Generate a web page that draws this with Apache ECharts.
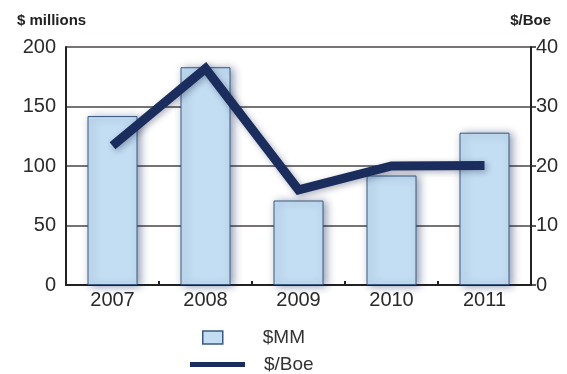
<!DOCTYPE html>
<html>
<head>
<meta charset="utf-8">
<script src="https://cdn.jsdelivr.net/npm/echarts@6/dist/echarts.min.js"></script>
<style>
html,body{margin:0;padding:0;background:#fff;}
#c{width:567px;height:374px;}
</style>
</head>
<body>
<div id="c"></div>
<script>
const categories = ['2007', '2008', '2009', '2010', '2011'];
const mmValues = [142, 183, 71, 92, 128];
const boeValues = [23.4, 36.4, 16, 20, 20.1];
const leftTicks = [0, 50, 100, 150, 200];
const rightTicks = [0, 10, 20, 30, 40];

const chart = echarts.init(document.getElementById('c'));
const font = 'Liberation Sans, Arial, sans-serif';
chart.setOption({
  animation: false,
  backgroundColor: '#fff',
  title: [
    {text: '$ millions', left: 12, top: 8, textStyle: {fontFamily: font, fontSize: 15, fontWeight: 'bold', color: '#222'}},
    {text: '$/Boe', right: 11, top: 8, textStyle: {fontFamily: font, fontSize: 15, fontWeight: 'bold', color: '#222'}}
  ],
  grid: {
    left: 66, right: 36, top: 47, bottom: 89,
    show: false
  },
  legend: [
    {
      data: [{name: '$MM', icon: 'rect'}],
      left: 197, top: 323, itemWidth: 20, itemHeight: 13,
      itemStyle: {borderColor: '#3a5a80', borderWidth: 1.5},
      textStyle: {fontFamily: font, fontSize: 19, color: '#333', padding: [0, 0, 0, 35]}
    },
    {
      data: [{name: '$/Boe', icon: 'rect'}],
      left: 185, top: 350, itemWidth: 55, itemHeight: 5,
      textStyle: {fontFamily: font, fontSize: 19, color: '#333', padding: [0, 0, 0, 14]}
    }
  ],
  xAxis: {
    type: 'category', data: categories,
    axisLine: {lineStyle: {color: '#222', width: 2}},
    axisTick: {show: true, inside: true, length: 4, lineStyle: {color: '#222', width: 2}},
    axisLabel: {fontFamily: font, fontSize: 20, color: '#2a2a2a', margin: 5}
  },
  yAxis: [
    {
      type: 'value', min: 0, max: 200, interval: 50,
      axisLine: {show: true, lineStyle: {color: '#222', width: 2}},
      axisTick: {show: false},
      axisLabel: {fontFamily: font, fontSize: 20, color: '#2a2a2a', margin: 10,
        formatter: v => leftTicks.includes(v) ? String(v) : ''},
      splitLine: {show: true, lineStyle: {color: '#4a4644', width: 1.5}}
    },
    {
      type: 'value', min: 0, max: 40, interval: 10,
      axisLine: {show: true, lineStyle: {color: '#222', width: 2}},
      axisTick: {show: true, length: 5, lineStyle: {color: '#222', width: 1.5}},
      axisLabel: {fontFamily: font, fontSize: 20, color: '#2a2a2a', margin: 5,
        formatter: v => rightTicks.includes(v) ? String(v) : ''},
      splitLine: {show: false}
    }
  ],
  series: [
    {
      name: '$MM', type: 'bar', data: mmValues, yAxisIndex: 0, barWidth: 50,
      itemStyle: {
        color: '#c3ddf2', borderColor: '#3a5a80', borderWidth: 1,
        shadowColor: 'rgba(20,40,90,0.45)', shadowBlur: 8, shadowOffsetX: 3, shadowOffsetY: 1
      }
    },
    {
      name: '$/Boe', type: 'line', data: boeValues, yAxisIndex: 1,
      symbol: 'none',
      lineStyle: {color: '#1b2d5c', width: 9, shadowColor: 'rgba(20,30,70,0.35)', shadowBlur: 6, shadowOffsetX: 2, shadowOffsetY: 2, join: 'miter'},
      itemStyle: {color: '#1b2d5c'}
    }
  ]
});
</script>
</body>
</html>
